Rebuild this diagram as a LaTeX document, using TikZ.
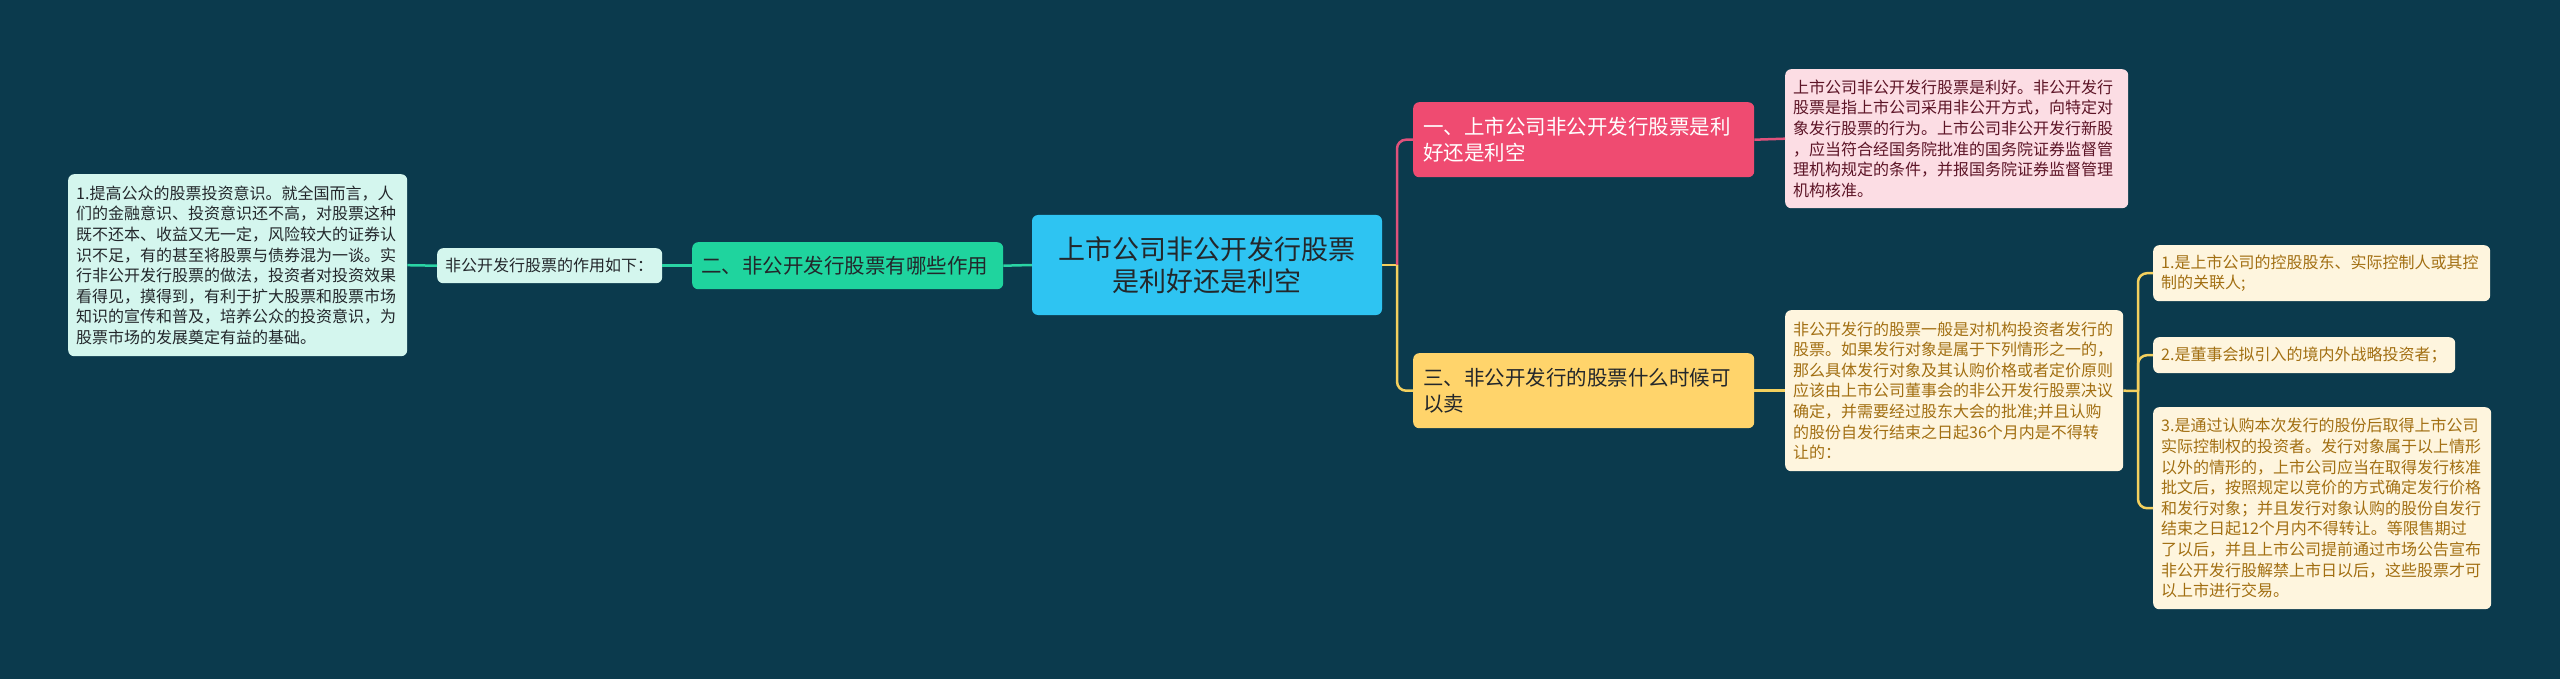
\documentclass[tikz,border=0pt]{standalone}
\usepackage{fontspec}
\setmainfont{Noto Sans CJK SC}
\definecolor{bgc}{HTML}{0B3A4D}
\definecolor{centerc}{HTML}{2EC4F2}
\definecolor{greenc}{HTML}{1FD49E}
\definecolor{mintc}{HTML}{D4F6EE}
\definecolor{tealline}{HTML}{2AD3A4}
\definecolor{redc}{HTML}{EF4B71}
\definecolor{pinkline}{HTML}{E0517B}
\definecolor{pinkc}{HTML}{FCDDE4}
\definecolor{pinktext}{HTML}{5C1426}
\definecolor{yellowc}{HTML}{FFD46B}
\definecolor{yellowline}{HTML}{F3D05E}
\definecolor{creamc}{HTML}{FEF5DE}
\definecolor{creamtext}{HTML}{A26F12}
\definecolor{darkt}{HTML}{23272B}
\newcommand\fsz[2]{\fontsize{#1}{#2}\selectfont}
\begin{document}
\begin{tikzpicture}[x=1pt,y=-1pt,
  box/.style={rounded corners=6pt, inner ysep=0pt, anchor=north west, align=left},
  detail/.style={box, font=\fsz{16}{20.6}},
  title/.style={box, font=\fsz{20.5}{26}},
  conn/.style={line width=2.5pt},
]
\fill[bgc] (0,0) rectangle (2560,679);
\useasboundingbox (0,0) rectangle (2560,679);

% center
\node[rounded corners=6pt, fill=centerc, text=darkt, minimum width=350pt, minimum height=100pt, inner sep=0pt, align=center, font=\fsz{27}{32}] (c) at (1207,265) {上市公司非公开发行股票\\是利好还是利空};

% left branch
\node[title, fill=greenc, text=darkt, minimum height=47pt, text width=293pt, inner xsep=9pt] (g) at (692,242) {二、非公开发行股票有哪些作用};
\node[detail, fill=mintc, text=darkt, minimum height=35pt, text width=209pt, inner xsep=8pt] (s) at (437,248) {非公开发行股票的作用如下：};
\node[detail, fill=mintc, text=darkt, minimum height=182pt, text width=323pt, inner xsep=8pt] (l) at (68,174) {1.提高公众的股票投资意识。就全国而言，人\\们的金融意识、投资意识还不高，对股票这种\\既不还本、收益又无一定，风险较大的证券认\\识不足，有的甚至将股票与债券混为一谈。实\\行非公开发行股票的做法，投资者对投资效果\\看得见，摸得到，有利于扩大股票和股票市场\\知识的宣传和普及，培养公众的投资意识，为\\股票市场的发展奠定有益的基础。};

% right top
\node[title, fill=redc, text=white, minimum height=75pt, text width=321pt, inner xsep=10pt] (r) at (1413,102) {一、上市公司非公开发行股票是利\\好还是利空};
\node[detail, fill=pinkc, text=pinktext, minimum height=139pt, text width=327pt, inner xsep=8pt] (p) at (1785,69) {上市公司非公开发行股票是利好。非公开发行\\股票是指上市公司采用非公开方式，向特定对\\象发行股票的行为。上市公司非公开发行新股\\，应当符合经国务院批准的国务院证券监督管\\理机构规定的条件，并报国务院证券监督管理\\机构核准。};

% right bottom
\node[title, fill=yellowc, text=darkt, minimum height=75pt, text width=321pt, inner xsep=10pt] (y) at (1413,353) {三、非公开发行的股票什么时候可\\以卖};
\node[detail, fill=creamc, text=creamtext, minimum height=161pt, text width=322pt, inner xsep=8pt] (k) at (1785,310) {非公开发行的股票一般是对机构投资者发行的\\股票。如果发行对象是属于下列情形之一的，\\那么具体发行对象及其认购价格或者定价原则\\应该由上市公司董事会的非公开发行股票决议\\确定，并需要经过股东大会的批准;并且认购\\的股份自发行结束之日起36个月内是不得转\\让的：};
\node[detail, fill=creamc, text=creamtext, minimum height=56pt, text width=321pt, inner xsep=8pt] (i1) at (2153,245) {1.是上市公司的控股股东、实际控制人或其控\\制的关联人;};
\node[detail, fill=creamc, text=creamtext, minimum height=36pt, text width=286pt, inner xsep=8pt] (i2) at (2153,337) {2.是董事会拟引入的境内外战略投资者；};
\node[detail, fill=creamc, text=creamtext, minimum height=202pt, text width=322pt, inner xsep=8pt] (i3) at (2153,407) {3.是通过认购本次发行的股份后取得上市公司\\实际控制权的投资者。发行对象属于以上情形\\以外的情形的，上市公司应当在取得发行核准\\批文后，按照规定以竞价的方式确定发行价格\\和发行对象；并且发行对象认购的股份自发行\\结束之日起12个月内不得转让。等限售期过\\了以后，并且上市公司提前通过市场公告宣布\\非公开发行股解禁上市日以后，这些股票才可\\以上市进行交易。};

% connectors
\coordinate (j1) at (1397,265);
\coordinate (j2) at (2138,391);
\draw[conn, tealline] (c.west) -- (g.east);
\draw[conn, tealline] (g.west) -- (s.east);
\draw[conn, tealline] (s.west) -- (l.east);
\draw[conn, yellowline] (c.east) -- (j1);
\draw[conn, pinkline, rounded corners=9pt] (j1) |- (r.west);
\draw[conn, yellowline, rounded corners=9pt] (j1) |- (y.west);
\draw[conn, pinkline] (r.east) -- (p.west);
\draw[conn, yellowline] (y.east) -- (k.west);
\draw[conn, yellowline] (k.east) -- (j2);
\draw[conn, yellowline, rounded corners=9pt] (j2) |- (i1.west);
\draw[conn, yellowline, rounded corners=9pt] (j2) |- (i2.west);
\draw[conn, yellowline, rounded corners=9pt] (j2) |- (i3.west);
\end{tikzpicture}
\end{document}
